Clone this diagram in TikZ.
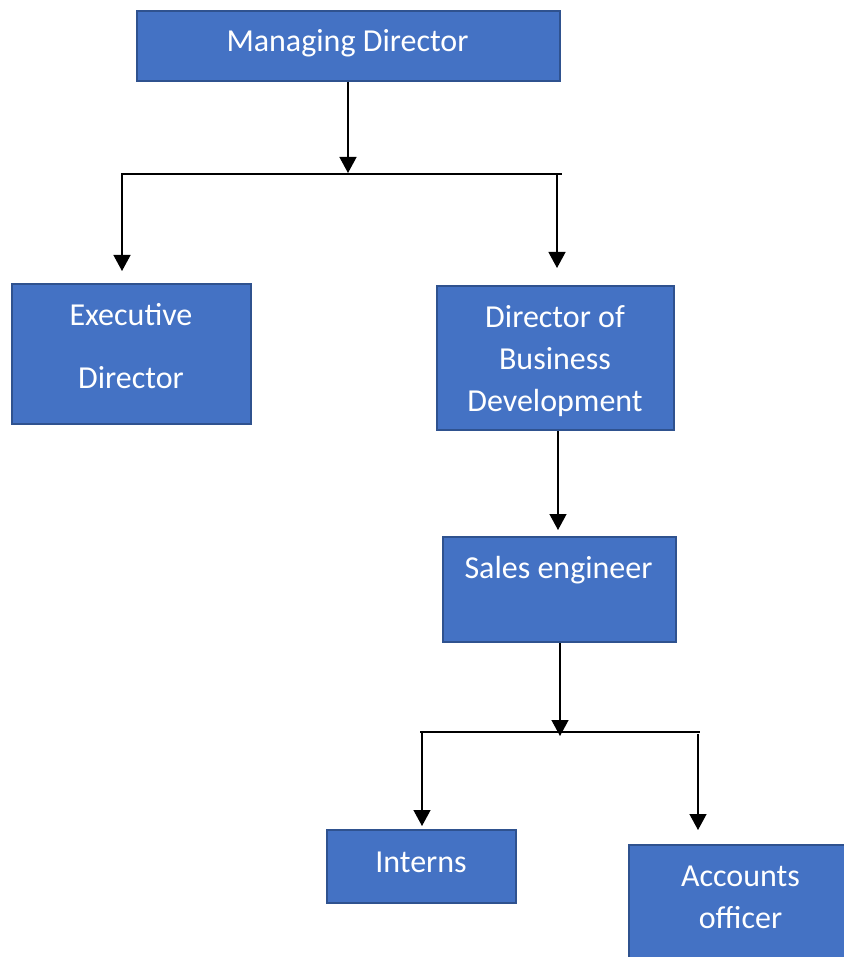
\documentclass[tikz,border=0pt]{standalone}
\usepackage{fontspec}
\setmainfont{Carlito}
\usetikzlibrary{arrows.meta}
\definecolor{boxfill}{HTML}{4472C4}
\definecolor{boxline}{HTML}{2F528F}
\tikzset{
  orgbox/.style={draw=boxline, fill=boxfill, line width=2pt, inner sep=0pt, anchor=north west},
  lbl/.style={text=white, font=\fontsize{32}{42}\selectfont, anchor=base, inner sep=0pt, align=center},
  conn/.style={line width=1.3pt, black},
  arr/.style={conn, -{Triangle[length=16pt,width=17pt]}},
}
\begin{document}
\begin{tikzpicture}[x=1pt,y=-1pt]
\useasboundingbox (0,0) rectangle (843,957);
% boxes
\node[orgbox, minimum width=423pt, minimum height=70pt] (md) at (136,10) {};
\node[orgbox, minimum width=239pt, minimum height=140pt] (ed) at (11,283) {};
\node[orgbox, minimum width=237pt, minimum height=144pt] (dbd) at (436,285) {};
\node[orgbox, minimum width=233pt, minimum height=105pt] (se) at (442,536) {};
\node[orgbox, minimum width=189pt, minimum height=73pt] (in) at (326,829) {};
\node[orgbox, minimum width=230pt, minimum height=130pt] (ao) at (628,844) {};
% labels
\node[lbl] (mdt) at (347.5,52) {Managing Director};
\node[lbl] (edt1) at (131,325) {Executive};
\node[lbl] (edt2) at (131,388) {Director};
\node[lbl] (dbdt1) at (555,327) {Director of};
\node[lbl] (dbdt2) at (555,369) {Business};
\node[lbl] (dbdt3) at (555,411) {Development};
\node[lbl] (set) at (558.5,578) {Sales engineer};
\node[lbl] (int) at (421,872) {Interns};
\node[lbl] (aot1) at (740.5,886) {Accounts};
\node[lbl] (aot2) at (740.5,928) {officer};
% junction coordinates
\coordinate (j1) at (348,173);
\coordinate (h1l) at (121,174);
\coordinate (h1r) at (562,174);
\coordinate (s1) at (122,175);
\coordinate (t1) at (122,271);
\coordinate (s2) at (557,174);
\coordinate (t2) at (557,268);
\coordinate (t3) at (558,530);
\coordinate (j2) at (560,736);
\coordinate (h2l) at (420,732);
\coordinate (h2r) at (700,732);
\coordinate (s4) at (422,731);
\coordinate (t4) at (422,826);
\coordinate (s5) at (698,734);
\coordinate (t5) at (698,830);
% connectors
\draw[arr] (md.south -| j1) -- (j1);
\draw[conn] (h1l) -- (h1r);
\draw[arr] (s1) -- (t1);
\draw[arr] (s2) -- (t2);
\draw[arr] (dbd.south -| t3) -- (t3);
\draw[arr] (se.south -| j2) -- (j2);
\draw[conn] (h2l) -- (h2r);
\draw[arr] (s4) -- (t4);
\draw[arr] (s5) -- (t5);
\end{tikzpicture}
\end{document}
